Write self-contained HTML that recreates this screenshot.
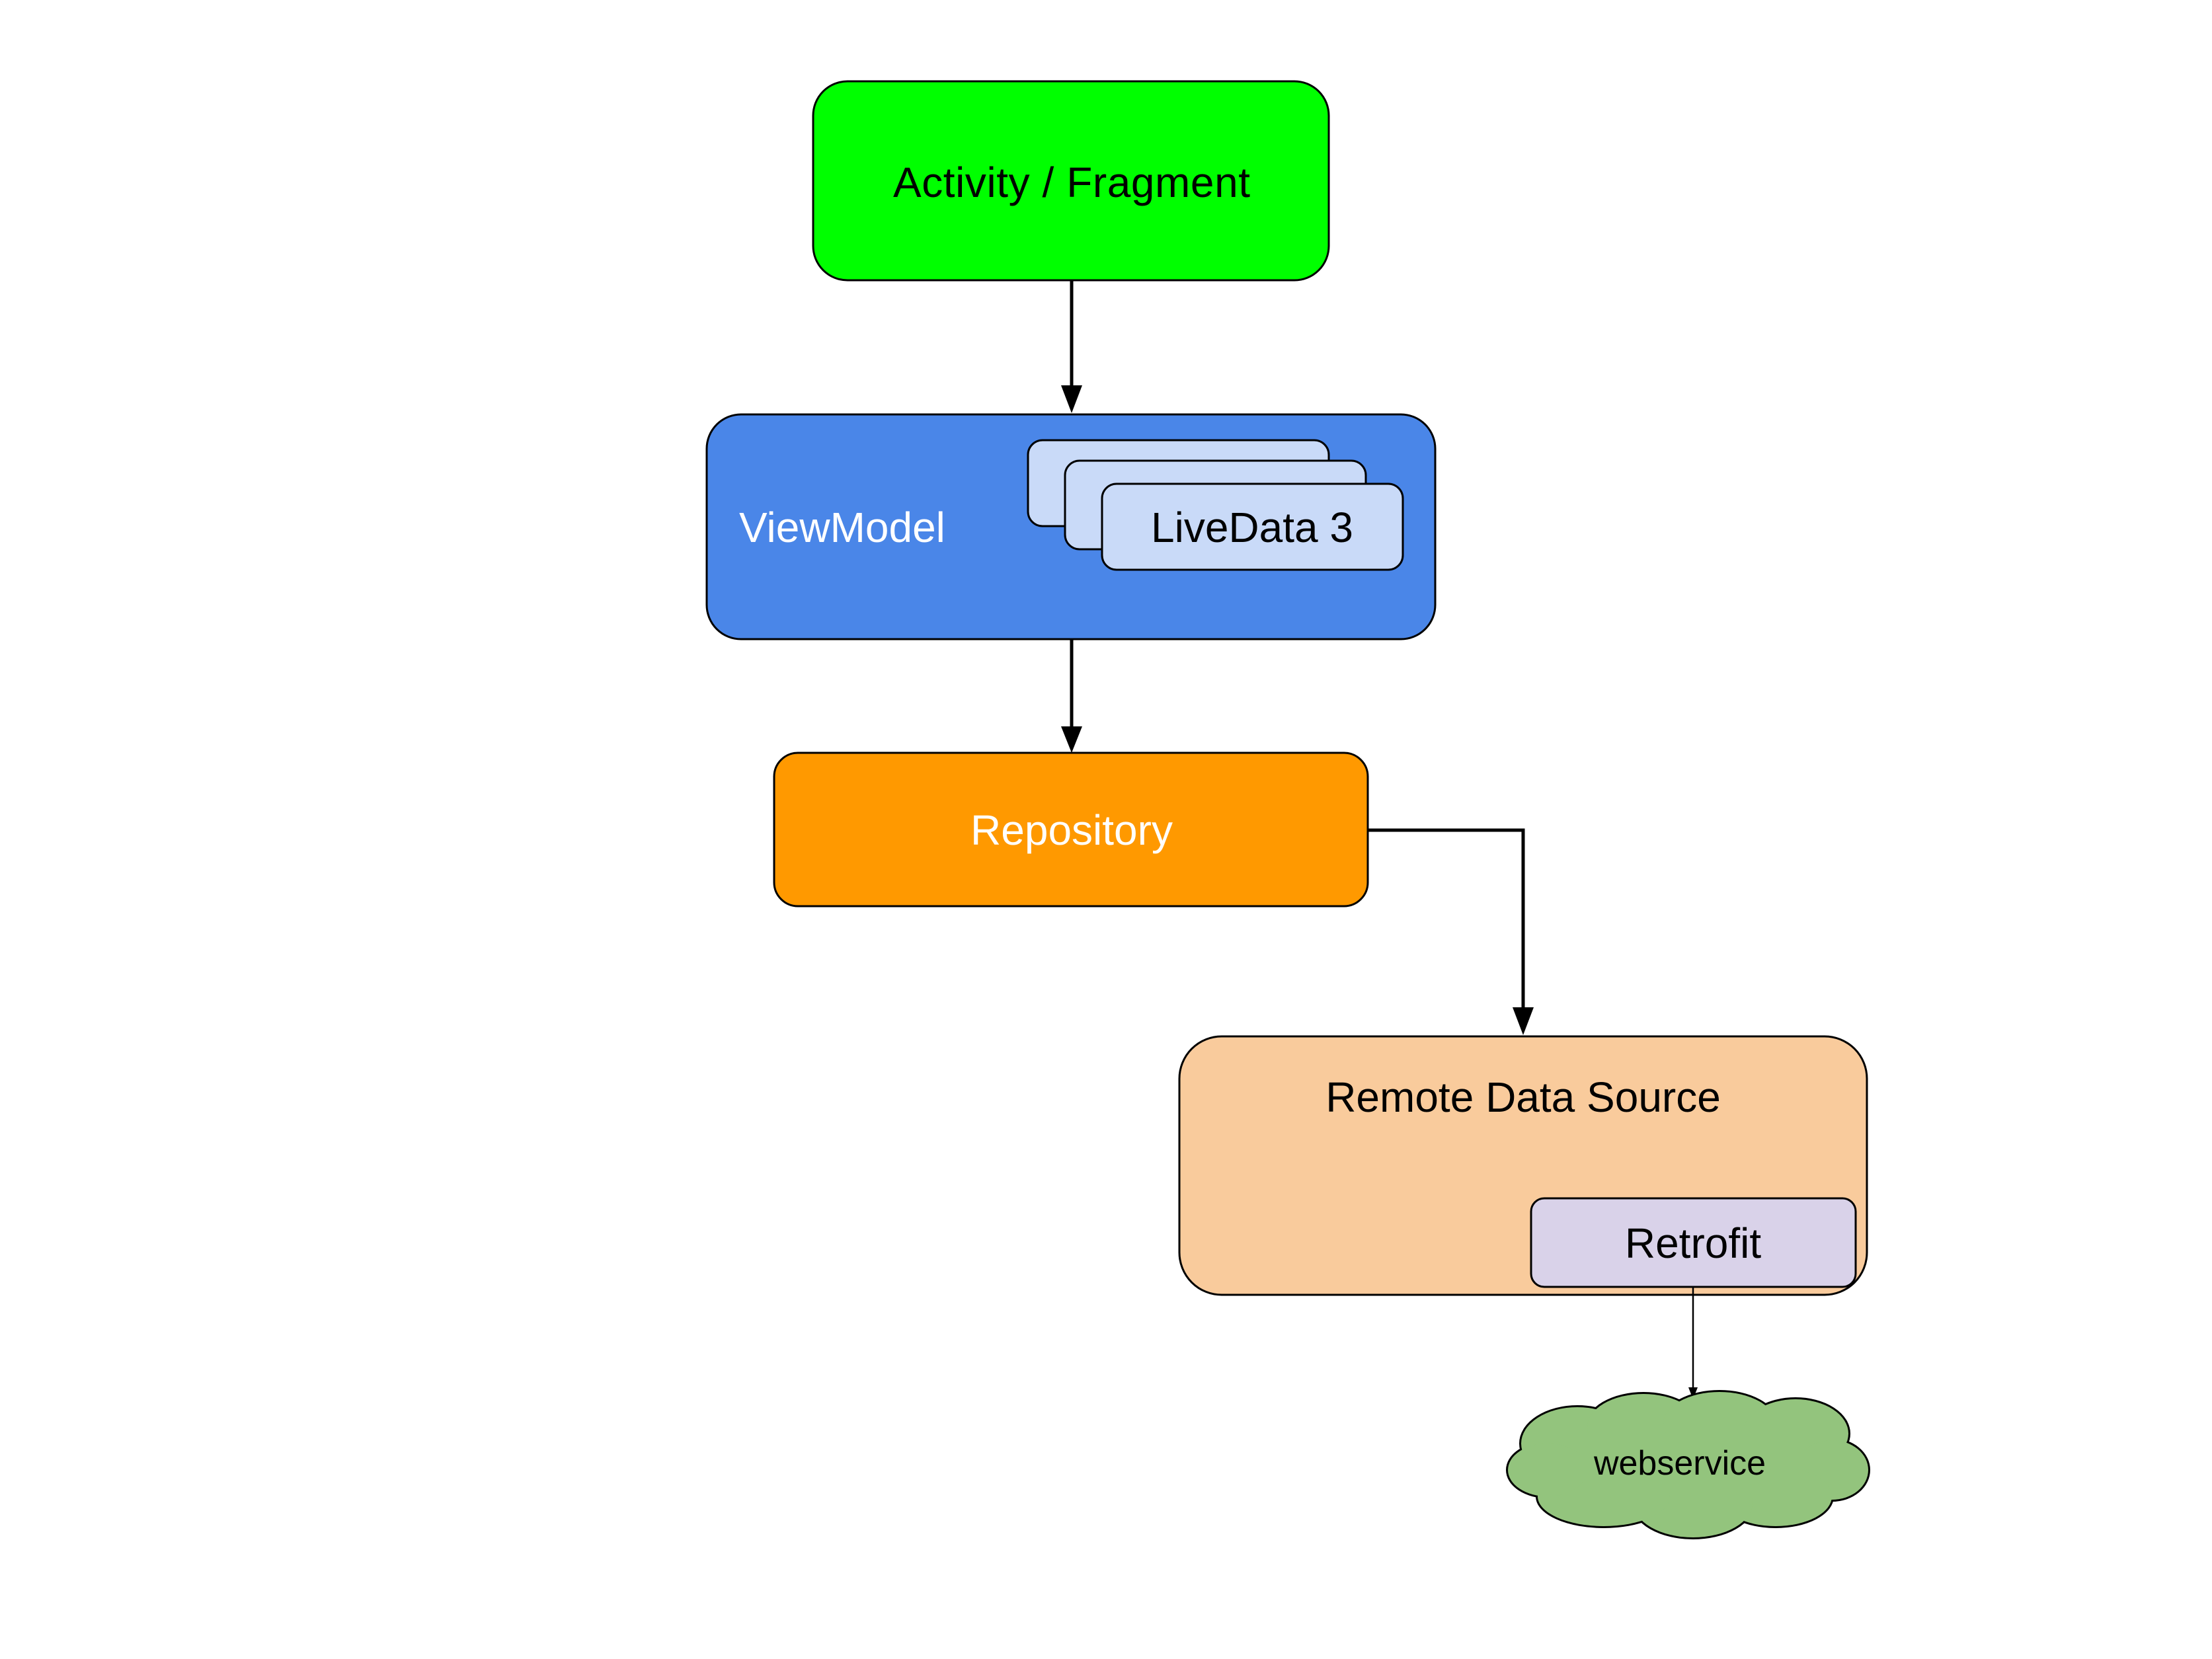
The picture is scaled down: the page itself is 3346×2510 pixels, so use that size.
<!DOCTYPE html>
<html><head><meta charset="utf-8"><style>
html,body{margin:0;padding:0;background:#fff;}
svg{display:block;}
text{font-family:"Liberation Sans",Arial,sans-serif;}
</style></head><body>
<svg width="3346" height="2510" viewBox="0 0 3346 2510" xmlns="http://www.w3.org/2000/svg">
<rect width="3346" height="2510" fill="#fff"/>
<g transform="translate(-4,-1)">
<rect x="1234" y="124" width="780" height="301" rx="52" fill="#00ff00" stroke="#000" stroke-width="3"/>
<text x="1625" y="299" font-size="64" text-anchor="middle" fill="#000" textLength="540">Activity / Fragment</text>
<line x1="1625" y1="425" x2="1625" y2="590" stroke="#000" stroke-width="5"/>
<polygon points="1609,584 1641,584 1625,626" fill="#000"/>
<rect x="1073" y="628" width="1102" height="340" rx="52" fill="#4a86e8" stroke="#000" stroke-width="3"/>
<text x="1122" y="821" font-size="64" fill="#fff">ViewModel</text>
<rect x="1559" y="667" width="455" height="130" rx="22" fill="#c9daf8" stroke="#000" stroke-width="3"/>
<rect x="1615" y="698" width="455" height="134" rx="22" fill="#c9daf8" stroke="#000" stroke-width="3"/>
<rect x="1671" y="733" width="455" height="130" rx="22" fill="#c9daf8" stroke="#000" stroke-width="3"/>
<text x="1898" y="821" font-size="64" text-anchor="middle" fill="#000">LiveData 3</text>
<line x1="1625" y1="968" x2="1625" y2="1105" stroke="#000" stroke-width="5"/>
<polygon points="1609,1100 1641,1100 1625,1140" fill="#000"/>
<rect x="1175" y="1140" width="898" height="232" rx="36" fill="#ff9900" stroke="#000" stroke-width="3"/>
<text x="1625" y="1279" font-size="64" text-anchor="middle" fill="#fff">Repository</text>
<polyline points="2073,1257 2308,1257 2308,1530" fill="none" stroke="#000" stroke-width="5"/>
<polygon points="2292,1525 2324,1525 2308,1567" fill="#000"/>
<rect x="1788" y="1569" width="1040" height="391" rx="64" fill="#f9cb9c" stroke="#000" stroke-width="3"/>
<text x="2308" y="1683" font-size="64" text-anchor="middle" fill="#000">Remote Data Source</text>
<rect x="2320" y="1814" width="491" height="134" rx="20" fill="#d9d2e9" stroke="#000" stroke-width="3"/>
<text x="2565" y="1904" font-size="64" text-anchor="middle" fill="#000">Retrofit</text>
<line x1="2565" y1="1948" x2="2565" y2="2110" stroke="#000" stroke-width="2.5"/>
<polygon points="2558,2100 2572,2100 2565,2118" fill="#000"/>
<g stroke="#000" stroke-width="6" fill="#93c47d">
<ellipse cx="2390" cy="2185" rx="85" ry="55"/>
<ellipse cx="2490" cy="2160" rx="85" ry="50"/>
<ellipse cx="2605" cy="2155" rx="85" ry="48"/>
<ellipse cx="2720" cy="2170" rx="80" ry="52"/>
<ellipse cx="2775" cy="2225" rx="55" ry="45"/>
<ellipse cx="2690" cy="2265" rx="85" ry="45"/>
<ellipse cx="2565" cy="2275" rx="90" ry="52"/>
<ellipse cx="2430" cy="2265" rx="100" ry="45"/>
<ellipse cx="2345" cy="2225" rx="60" ry="40"/>
</g>
<g fill="#93c47d">
<ellipse cx="2390" cy="2185" rx="85" ry="55"/>
<ellipse cx="2490" cy="2160" rx="85" ry="50"/>
<ellipse cx="2605" cy="2155" rx="85" ry="48"/>
<ellipse cx="2720" cy="2170" rx="80" ry="52"/>
<ellipse cx="2775" cy="2225" rx="55" ry="45"/>
<ellipse cx="2690" cy="2265" rx="85" ry="45"/>
<ellipse cx="2565" cy="2275" rx="90" ry="52"/>
<ellipse cx="2430" cy="2265" rx="100" ry="45"/>
<ellipse cx="2345" cy="2225" rx="60" ry="40"/>
<rect x="2400" y="2170" width="330" height="90"/>
</g>
<text x="2545" y="2232" font-size="52" text-anchor="middle" fill="#000">webservice</text>
</g>
</svg>
</body></html>
